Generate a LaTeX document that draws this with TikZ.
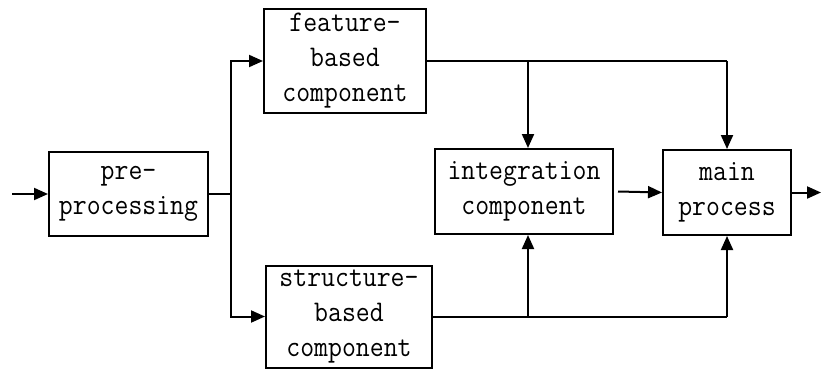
\documentclass[tikz,border=0pt]{standalone}
\usepackage{fontspec}
\setmonofont{Latin Modern Mono}[FakeStretch=0.9]
\usetikzlibrary{arrows.meta}
\begin{document}
\begin{tikzpicture}[x=1pt,y=-1pt,
  block/.style={draw,line width=2pt,align=center,inner sep=0pt,
    font=\ttfamily\fontsize{30}{35}\selectfont},
  wire/.style={line width=2pt},
  arr/.style={wire,-{Triangle[length=14pt,width=12pt]}}]
\useasboundingbox (0,0) rectangle (821,369);

% processing blocks
\node[block,minimum width=159pt,minimum height=84pt]  (pre)    at (128.5,194) {pre-\\processing};
\node[block,minimum width=162pt,minimum height=104pt] (feat)   at (345,61)    {feature-\\based\\component};
\node[block,minimum width=166pt,minimum height=102pt] (struct) at (349,316.5) {structure-\\based\\component};
\node[block,minimum width=178pt,minimum height=85pt]  (integ)  at (524,191.5) {integration\\component};
\node[block,minimum width=128pt,minimum height=85pt]  (main)   at (727,192.5) {main\\process};

% branch points
\coordinate (in)  at (12,194);
\coordinate (out) at (821,192.5);
\coordinate (j)   at (231,194);
\coordinate (ft)  at (528,61);
\coordinate (fm)  at (727,61);
\coordinate (st)  at (528,316.5);
\coordinate (sm)  at (727,316.5);

% input and split
\draw[arr] (in) -- (pre.west);
\draw[wire] (pre.east) -- (j);
\draw[arr] (j) |- (feat.west);
\draw[arr] (j) |- (struct.west);

% feature branch down to integration and main
\draw[wire] (feat.east) -- (fm);
\draw[arr] (ft) -- (ft |- integ.north);
\draw[arr] (fm) -- (main.north);

% structure branch up to integration and main
\draw[wire] (struct.east) -- (sm);
\draw[arr] (st) -- (st |- integ.south);
\draw[arr] (sm) -- (main.south);

% integration to main, and output
\draw[arr] ([xshift=4pt]integ.east) -- (main.west);
\draw[arr] (main.east) -- (out);
\end{tikzpicture}
\end{document}
